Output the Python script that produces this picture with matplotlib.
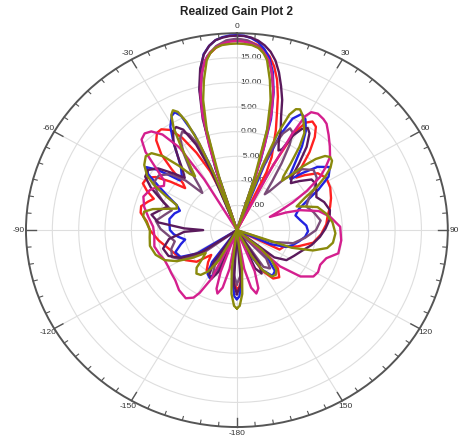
import numpy as np
import matplotlib
matplotlib.use("Agg")
import matplotlib.pyplot as plt
from matplotlib import transforms

# ---------------- data (angle in degrees, realized gain in dB) ----------------
title = "Realized Gain Plot 2"
r_min, r_max = -20, 20
r_ticks = [-15, -10, -5, 0, 5, 10, 15]
theta_ticks = [0, 30, 60, 90, 120, 150, 180, 210, 240, 270, 300, 330]
theta_labels = ["0", "30", "60", "90", "120", "150", "-180", "-150", "-120", "-90", "-60", "-30"]

red_theta = [-180, -177, -174, -172, -155, -150, -145, -140, -136, -130, -122, -114, -106, -98, -90,
             -84, -79, -75, -71, -68, -65, -62, -58, -55, -52, -49, -47, -45, -43, -40, -37.5, -35,
             -32, -29, -26, -23, -21, -20, -19, -17.8, -16, -14, -12, -10, -8, -6, -4, -2,
             0, 2, 4, 6, 8, 10, 12, 14, 16, 18, 20, 22, 24, 25.5, 26.5, 27.5, 29, 31, 33, 35.5,
             38, 41, 44, 46.5, 49, 53, 58, 64, 70, 75, 80, 86, 93, 100, 106, 111, 116, 120,
             128, 131, 135, 140, 145, 150, 153, 155, 170, 173, 176, 178, 180]
red_gain = [-8, -9.5, -14, -20, -20, -12, -10, -11.5, -13, -10, -8.5, -7.5, -6.5, -5, -3.5,
            -2.8, -1.4, -1.2, -2.2, -3, -1.2, 0.2, 0.1, -1.2, -4, -7, -6, -2.5, 1, 3.8, 4.9, 5,
            4, 1.5, -2.5, -7, -12, -20, -20, -8, 1.5, 8.3, 12.5, 14.8, 16.3, 17.3, 18, 18.5,
            18.7, 18.6, 18.3, 17.8, 17, 15.8, 14, 11.5, 8.2, 4.5, 1.6, -1.5, -3.8, -7, -20, -5, 3, 5.5, 6.3, 5.8,
            4, 1, -2.5, -4.5, -3, -0.8, 0, -0.3, -1, -1.7, -2.5, -3, -4, -5.3, -8, -10.5, -11, -20,
            -20, -12, -9, -7.5, -8, -10.5, -15, -20, -20, -13, -9.5, -8.3, -8]

blue_theta = [-180, -178, -176, -173, -159, -156, -152, -148, -144, -140, -125, -122, -117, -111,
              -105, -101, -97, -94, -90, -86, -80, -74, -70, -66, -62, -58.8, -56, -53.3, -51, -49,
              -47, -44, -40, -37, -34, -31, -28, -26.2, -24.5, -22.5, -21, -20, -19, -17.6, -16,
              -14, -12, -10, -8, -6, -4, -2, 0, 2, 4, 6, 8, 10, 12, 14, 16, 17.6, 19, 20.5, 21.5,
              23, 25, 27.5, 30, 33, 36, 39, 42, 44.5, 47, 50, 54, 58, 62, 66, 70, 75, 80.5, 86,
              91, 96, 101, 106, 110, 114, 116, 130, 134, 139, 144, 149, 153, 155, 172, 175, 178, 180]
blue_gain = [-6, -6.5, -9, -20, -20, -11, -9, -9.5, -12, -20, -20, -11, -8, -7.5,
             -9, -10, -8.8, -8, -7.3, -7.2, -7, -7.7, -8.5, -7.5, -5, -2.5, 0.3, 1.4, -0.5, -3,
             -5.2, -5, -3.5, -1.5, 1.5, 4.5, 6.3, 6.7, 5.5, 1, -6, -20, -20, -7, 2,
             9, 13.3, 16.3, 17.8, 18.8, 19.3, 19.55, 19.6, 19.5, 19.1, 18.4, 17.2, 15.5, 12.8, 8.8, 3.5, -5, -20, -20, -6,
             1, 5, 6.6, 6, 4, 1, -2.5, -5, -5.5, -3, 0, 1.8, 0.5, -2.5, -5.5, -7.5, -8.5, -7.8, -6.8,
             -6.5, -7, -8, -9, -10, -13, -20, -20, -12, -9, -8.5, -10.5, -14, -20, -20, -10, -6.5, -6]

purple_theta = [-180, -177, -174, -161, -158, -154, -150, -146, -143, -127, -124, -118, -112, -105,
                -98, -92, -90, -88, -84, -79, -74, -70, -66, -62, -58, -54, -50, -46, -43, -40,
                -37, -34, -31, -28.8, -26.5, -24, -22, -21, -19.8, -18, -16, -14, -12, -10, -8,
                -6, -4, -2, 0, 2, 4, 6, 8, 10, 12, 14, 16, 18, 20, 22.3, 24, 26, 27.5, 29, 31, 33,
                35, 38, 41, 44, 47, 50, 54, 58, 61.8, 66, 71, 77, 83, 89, 95, 102, 109, 116, 123,
                128, 131, 145, 148, 152, 156, 159, 172, 176, 180]
purple_gain = [-7, -9, -20, -20, -11, -9, -9.5, -12, -20, -20, -12, -8, -6, -5.5,
               -7, -10, -13.6, -10, -5, -3.5, -5, -6, -4, -1.5, 0.5, 0.8, -0.5, -3.5, -5.5, -4,
               -1.5, 1.5, 3.5, 3.9, 2.8, -1, -7, -20, -20, -7, 3.5, 9.5, 13.5, 16.2, 17.8,
               18.8, 19.2, 19.45, 19.5, 19.45, 19.2, 18.7, 17.9, 16.8, 15.2, 13, 10.4, 7.8, 4.5, 1.9, -0.5, -2, -1.5, 2, 4, 4.7,
               4, 1.5, -2, -5, -6, -4.5, -2.5, -2.3, -2.9, -3.5, -2.5, -1.9, -2.3, -3.2, -4.2, -5.5, -7, -8, -8.8,
               -11, -20, -20, -12, -10, -11.5, -20, -20, -9, -7]

mauve_theta = [-180, -176, -172, -160, -157, -153, -149, -145, -129, -126, -120, -114, -107, -101,
               -95, -89, -83, -77, -72, -68, -63, -58, -53, -48, -44, -41, -39, -36, -33, -30,
               -27.5, -25, -23, -21.5, -20, -19, -17.5, -15.5, -13.5, -11, -9, -6, -3,
               0, 3, 6, 9, 11, 13.5, 15.5, 17.5, 19, 20.5, 22, 24, 26, 28, 30, 32, 34, 36, 38,
               41, 45, 50, 55, 60, 65, 70, 76, 83, 90, 97, 104, 110, 113, 132, 136, 141, 146, 150,
               170, 175, 180]
mauve_gain = [-9, -11, -20, -20, -11, -10, -12, -20, -20, -12, -8, -6.5, -7, -8,
              -7, -5.5, -4.5, -6, -7, -5, -3, -1.5, -1.5, -3, -6, -10, -9, -5, -1.5, 1.5,
              2.5, 1.5, -1, -7, -20, -20, -7, 3, 9.5, 13.8, 15.8, 17.6, 18.6,
              18.9, 18.6, 17.6, 15.8, 13.8, 9.5, 3, -7, -20, -8, -2, 1.5, 3, 2.5, 0, -4, -8, -11, -10,
              -6, -2.5, -1, -1.5, -3, -5, -6, -5, -4, -5, -7, -9, -13, -20, -20, -12, -10, -11, -20,
              -20, -11, -9]

magenta_theta = [-180, -172, -170, -167, -164, -162, -160, -158, -156, -154, -151, -149, -145,
                 -138, -131, -125, -120, -114, -108, -102, -94, -87.5, -81, -75, -69, -63.8, -60,
                 -57, -54, -50.5, -47.5, -44.5, -41.7, -39, -36, -33, -31, -30, -19, -18.2, -17,
                 -15.5, -14, -12, -10, -8, -6, -4, -2, 0, 2, 4, 6, 8, 10, 12, 14, 15.5, 17, 18.2,
                 19, 27, 27.6, 28.2, 29.2, 30.5, 33, 36, 38.2, 42, 46, 49.9, 53, 55.6, 59, 62,
                 64.5, 66.8, 69, 71.4, 76, 81.3, 88, 96, 103.8, 108.6, 114, 119, 123, 128, 132,
                 135, 155, 158, 161, 164, 167, 170, 172, 180]
magenta_gain = [-20, -20, -12, -8, -6.6, -7.5, -11, -20, -20, -9, -5.4, -4, -3.1,
                -3.6, -4.5, -4.8, -5, -5, -4.5, -4, -4.3, -4.1, -3, -1.8, -1, -1.6, -2.5,
                -3.5, -3, 0, 3.5, 5.8, 6.3, 5.8, 4, 0, -8, -20, -20, -9, -2,
                4.5, 8.5, 12.3, 15, 16.5, 17.4, 18, 18.3, 18.4, 18.3, 18, 17.4, 16.5, 15, 12.3, 8.5, 4.5, -2, -9,
                -20, -20, -6, 2, 6.5, 7.8, 8.2, 7.9, 7.5, 6, 4.5, 3.1, 1, -0.9, -4.5, -8,
                -11, -13.2, -10, -7.3, -4, -2.1, -0.4, -0.1, -0.2, -2.1, -2.7, -2.4, -2.7, -4.7, -9,
                -20, -20, -11, -7.5, -6.6, -8, -12, -20, -20]

olive_theta = [-180, -178, -175.5, -173, -171, -154, -151, -147, -143, -139, -135, -131, -128,
               -124, -119, -114, -108, -101, -95, -90, -85, -81, -78, -75, -72, -69, -66, -63,
               -60, -57, -53, -49, -46, -43, -40, -38, -36, -34, -32, -30, -28, -26.5, -25,
               -23.5, -22, -20.8, -19.8, -18.3, -17.4, -15.7, -13.6, -11.6, -9.4, -8, -6.4, -4.3,
               -2, 0, 2, 4.3, 6.4, 8, 9.4, 11.6, 13.6, 15.7, 17.4, 18.3, 19.3, 20.3, 21.5, 23,
               24.5, 26, 28, 30.5, 33, 35, 37, 39, 40.5, 42, 44, 46, 48, 50, 52, 54.5, 57, 60, 63,
               67, 70, 73, 79, 85, 92, 98, 102, 106, 109, 111, 127, 130, 133, 137, 141, 145, 149,
               152, 154, 171, 173, 175.5, 178, 180]
olive_gain = [-4.1, -4.6, -7, -12, -20, -20, -13, -10, -8.6, -8.3, -9.2, -11.5, -12.5,
              -10, -7, -5, -3.8, -3.2, -3.4, -3.5, -2.8, -2, -2, -3.5, -6, -7.8, -7.5, -5,
              -2, 0.3, 2, 2.9, 2.5, 0.5, -3, -5.5, -6.5, -4, 0, 4, 6.5, 7.2, 6.5,
              4, -1, -8, -20, -20, -9, 1.1, 7.2, 11.1, 15, 16.3, 17.2, 17.7,
              17.85, 17.9, 17.85, 17.7, 17.2, 16.3, 15, 11.1, 7.2, 1.1, -9, -20, -20, -6, 1, 5.5,
              7, 7.3, 6.5, 5, 3.5, 0.7, -3, -6, -6.8, -5.5, -2, 0.8, 2.5, 3.1, 2.9, 1.8, 0, -2.5, -5.5,
              -7.7, -6, -4, -2.7, -1.8, -1.3, -1.6, -2.5, -5, -9, -20, -20, -14, -11, -9, -8.3, -8.5, -10.5,
              -14, -20, -20, -12, -7, -4.6, -4.1]

series = [
    ("red", red_theta, red_gain, "#ff2020"),
    ("blue", blue_theta, blue_gain, "#2222e0"),
    ("mauve", mauve_theta, mauve_gain, "#7a4c78"),
    ("purple", purple_theta, purple_gain, "#5a1a5c"),
    ("magenta", magenta_theta, magenta_gain, "#d41f8e"),
    ("olive", olive_theta, olive_gain, "#8a8a0c"),
]

# ---------------- figure ----------------
plt.rcParams["font.family"] = ["Liberation Sans", "DejaVu Sans"]
fig = plt.figure(figsize=(4.59, 4.41), dpi=100)
ax = fig.add_axes([0.0566, 0.0317, 0.919, 0.893], projection="polar")
ax.set_aspect("auto")
ax.set_theta_zero_location("N")
ax.set_theta_direction(-1)
ax.set_rlim(r_min, r_max)
ax.set_rticks(r_ticks)
ax.set_yticklabels([])
ax.set_xticks(np.deg2rad(theta_ticks))
ax.set_xticklabels(theta_labels)
ax.tick_params(axis="x", which="major", length=0, pad=-2, labelsize=6, labelcolor="#333333")
ax.grid(True, color="#dedede", linewidth=0.8)
ax.spines["polar"].set_color("#555555")
ax.spines["polar"].set_linewidth(1.4)

# tick marks around the rim (every 5 degrees, longer every 30)
for a in range(0, 360, 5):
    length = 1.9 if a % 30 == 0 else 0.8
    ax.plot([np.deg2rad(a)] * 2, [r_max, r_max - length], color="#555555",
            linewidth=1.0 if a % 30 == 0 else 0.8, zorder=4, clip_on=False)

off = transforms.offset_copy(ax.transData, fig=fig, x=2.5, y=0, units="points")
for r in r_ticks:
    ax.text(0, r, f"{r:.2f}", transform=off, ha="left", va="center",
            fontsize=6, color="#333333", zorder=1.5)

for name, th, g, c in series:
    ax.plot(np.deg2rad(th), g, color=c, linewidth=1.7, zorder=3, solid_joinstyle="round")

fig.text(0.516, 0.972, title, ha="center", va="center", fontsize=8.5,
         fontweight="bold", color="#222222")

fig.savefig("out.png", dpi=100)
